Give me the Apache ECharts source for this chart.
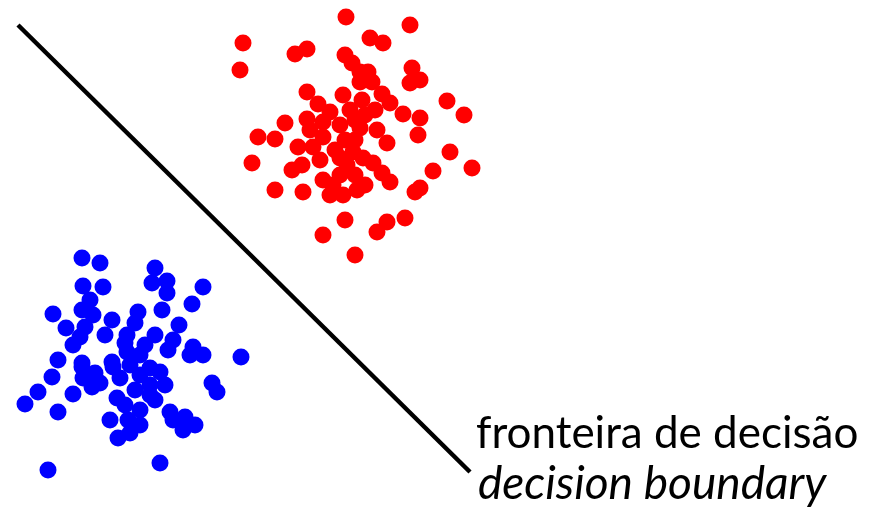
<!DOCTYPE html>
<html><head><meta charset="utf-8">
<script src="https://cdn.jsdelivr.net/npm/echarts@6/dist/echarts.min.js"></script>
<style>html,body{margin:0;padding:0;background:#fff}#c{width:871px;height:515px}</style>
</head><body><div id="c"></div>
<script>
var redPoints = [[346,17],[410,25],[243,43],[295,54],[307,49],[240,70],[345,55],[352,63],[370,38],[383,43],[360,72],[368,72],[360,82],[372,82],[412,68],[420,80],[410,83],[382,94],[390,103],[362,100],[447,101],[464,115],[403,114],[420,118],[418,135],[360,128],[377,130],[307,92],[318,104],[343,95],[330,112],[307,119],[323,122],[285,123],[258,137],[275,139],[298,147],[313,147],[323,137],[340,125],[252,163],[292,170],[302,165],[303,192],[275,190],[323,180],[333,185],[330,195],[343,195],[340,158],[347,165],[345,220],[323,235],[355,255],[387,143],[450,152],[472,168],[433,171],[420,188],[415,192],[390,182],[382,173],[365,185],[357,190],[373,163],[363,158],[353,152],[405,218],[387,222],[377,232],[350,110],[355,140],[345,140],[335,150],[365,115],[355,120],[375,110],[340,175],[355,175],[320,160],[310,130]];
var bluePoints = [[82,258],[100,263],[155,268],[83,286],[103,287],[152,283],[167,281],[167,293],[203,287],[90,300],[82,310],[93,315],[53,314],[66,328],[85,327],[80,337],[73,345],[112,320],[105,335],[125,343],[58,360],[82,363],[112,362],[192,304],[162,310],[138,312],[135,323],[127,335],[155,335],[179,325],[173,340],[168,350],[193,347],[203,355],[190,355],[241,357],[140,355],[127,352],[52,377],[38,392],[25,404],[58,412],[73,394],[82,367],[95,373],[83,378],[92,387],[100,383],[113,367],[117,398],[110,420],[118,438],[48,470],[120,378],[212,383],[217,392],[130,365],[140,375],[150,368],[160,372],[135,390],[150,395],[125,405],[140,410],[155,400],[128,420],[140,425],[130,433],[170,412],[185,417],[195,425],[183,430],[173,420],[160,463],[145,345],[150,385],[165,385]];
var boundaryX = [18, 470];
var boundaryY = [25, 472];
var labelPt = "fronteira de decisão";
var labelEn = "decision boundary";

var chart = echarts.init(document.getElementById('c'), null, {renderer:'canvas'});
chart.setOption({
  animation:false,
  backgroundColor:'#ffffff',
  grid:{left:0,right:0,top:0,bottom:0},
  xAxis:{type:'value',min:0,max:871,show:false},
  yAxis:{type:'value',min:0,max:515,inverse:true,show:false},
  series:[
    {type:'line',data:boundaryX.map(function(x,i){return [x,boundaryY[i]];}),symbol:'none',
     lineStyle:{color:'#000',width:4.5},z:1},
    {type:'scatter',data:redPoints,symbol:'circle',symbolSize:17,itemStyle:{color:'#ff0000',opacity:1},z:2},
    {type:'scatter',data:bluePoints,symbol:'circle',symbolSize:17,itemStyle:{color:'#0000ff',opacity:1},z:2}
  ],
  graphic:[
    {type:'text',left:476,top:412,style:{text:labelPt,font:'44px Lato',fill:'#000'}},
    {type:'text',left:478,top:461,style:{text:labelEn,font:'italic 46px Lato',fill:'#000'}}
  ]
});
</script></body></html>
